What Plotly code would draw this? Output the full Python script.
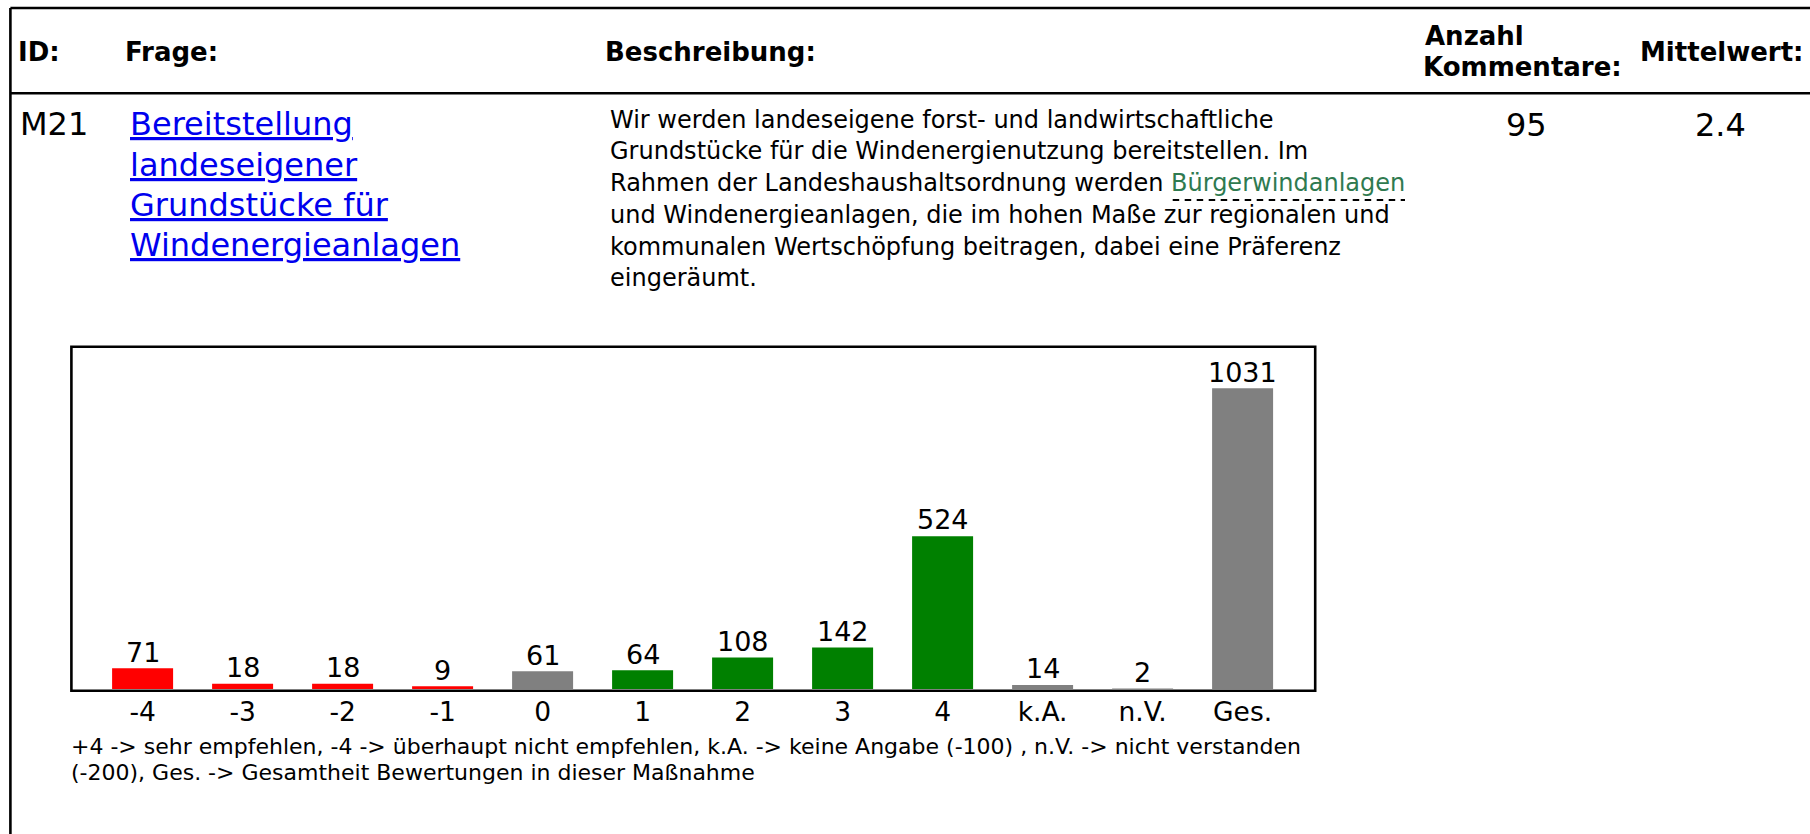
import plotly.graph_objects as go

W, H = 1810, 834
FONT = "DejaVu Sans"

# ---- data ----
categories = ["-4", "-3", "-2", "-1", "0", "1", "2", "3", "4", "k.A.", "n.V.", "Ges."]
counts = [71, 18, 18, 9, 61, 64, 108, 142, 524, 14, 2, 1031]
bar_colors = ["#ff0000"] * 4 + ["#808080"] + ["#008000"] * 4 + ["#808080", "#808080", "#808080"]

header_labels = ["ID:", "Frage:", "Beschreibung:", "Anzahl", "Kommentare:", "Mittelwert:"]
row_id = "M21"
question_lines = ["Bereitstellung", "landeseigener", "Grundstücke für", "Windenergieanlagen"]
description_lines = [
    "Wir werden landeseigene forst- und landwirtschaftliche",
    "Grundstücke für die Windenergienutzung bereitstellen. Im",
    "Rahmen der Landeshaushaltsordnung werden <span style='color:#2F7A50'>Bürgerwindanlagen</span>",
    "und Windenergieanlagen, die im hohen Maße zur regionalen und",
    "kommunalen Wertschöpfung beitragen, dabei eine Präferenz",
    "eingeräumt.",
]
n_comments = "95"
mean_value = "2.4"
footnote_lines = [
    "+4 -> sehr empfehlen, -4 -> überhaupt nicht empfehlen, k.A. -> keine Angabe (-100) , n.V. -> nicht verstanden",
    "(-200), Ges. -> Gesamtheit Bewertungen in dieser Maßnahme",
]


def px(x):
    return x / W


def py(y):
    return 1 - y / H


fig = go.Figure(
    go.Bar(
        x=categories,
        y=counts,
        width=0.61,
        marker=dict(color=bar_colors, line=dict(width=0)),
        hoverinfo="skip",
    )
)

# value labels above bars, positioned through the data axes (category index positions)
for idx, val in enumerate(counts):
    fig.add_annotation(
        x=idx, y=val, xref="x", yref="y", text=str(val), showarrow=False,
        xanchor="center", yanchor="bottom", yshift=-1.3,
        font=dict(size=27, color="black", family=FONT),
    )

fig.update_layout(
    width=W,
    height=H,
    margin=dict(l=0, r=0, t=0, b=0),
    paper_bgcolor="white",
    plot_bgcolor="white",
    showlegend=False,
    font=dict(family=FONT, color="black"),
    xaxis=dict(
        type="category",
        domain=[px(71.4), px(1315.2)],
        range=[-0.712, 11.726],
        showgrid=False,
        zeroline=False,
        showline=False,
        ticks="",
        tickfont=dict(size=26.5, family=FONT, color="black"),
        ticklabelstandoff=4,
        fixedrange=True,
    ),
    yaxis=dict(
        domain=[py(689), py(346.7)],
        range=[0, 1173.6],
        visible=False,
        fixedrange=True,
    ),
)

# ---- lines ----
lw = 2.6
shapes = [
    dict(type="line", x0=px(10.4), x1=1.0, y0=py(8), y1=py(8)),
    dict(type="line", x0=px(10.4), x1=1.0, y0=py(93.3), y1=py(93.3)),
    dict(type="line", x0=px(10.4), x1=px(10.4), y0=py(8), y1=0.0),
    dict(type="rect", x0=px(71.4), x1=px(1315.2), y0=py(690.7), y1=py(346.7)),
]
for s in shapes:
    s.update(xref="paper", yref="paper", line=dict(color="black", width=lw), layer="above")
    fig.add_shape(**s)
fig.add_shape(type="line", xref="paper", yref="paper", x0=px(1172.7), x1=px(1405), y0=py(200), y1=py(200),
              line=dict(color="black", width=2, dash="6.5px,5.5px"))


def add_text(text, x, y, size, weight="normal", color="black", xanchor="left"):
    fig.add_annotation(
        x=px(x), y=py(y), xref="paper", yref="paper", text=text, showarrow=False,
        xanchor=xanchor, yanchor="middle", align="left",
        font=dict(size=size, color=color, family=FONT, weight=weight),
    )


# header
add_text(header_labels[0], 15.5, 52, 26, "bold")
add_text(header_labels[1], 122.5, 52, 26, "bold")
add_text(header_labels[2], 602.5, 52, 26, "bold")
add_text(header_labels[3], 1423, 36, 26, "bold")
add_text(header_labels[4], 1420.5, 67.5, 26, "bold")
add_text(header_labels[5], 1637.5, 52, 26, "bold")

# row
add_text(row_id, 17.5, 124.5, 32)
q_y = [124.5, 165, 205, 245]
for line, yy in zip(question_lines, q_y):
    add_text("<span style='text-decoration:underline'>" + line + "</span>", 127.5, yy, 32, color="#0000EE")
d_y = [120, 151.3, 182.8, 215.3, 246.7, 278.3]
for line, yy in zip(description_lines, d_y):
    add_text(line, 607.5, yy, 24)
add_text(n_comments, 1526.3, 125, 32, xanchor="center")
add_text(mean_value, 1720, 125, 32, xanchor="center")

# footnote
add_text(footnote_lines[0], 69, 746.5, 22)
add_text(footnote_lines[1], 69, 772, 22)

fig.write_html(
    "out.html",
    config={"displayModeBar": False, "staticPlot": True},
    post_script="document.body.style.margin='0';document.body.style.overflow='hidden';",
)
